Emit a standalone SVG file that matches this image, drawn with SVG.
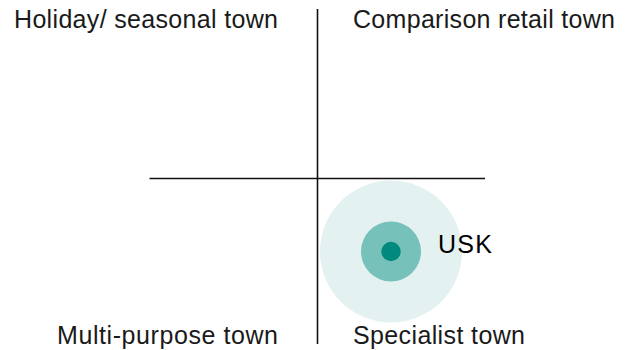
<svg xmlns="http://www.w3.org/2000/svg" width="633" height="350" viewBox="0 0 633 350">
  <style>
    .lbl { font-family: "Liberation Sans", Arial, sans-serif; font-size: 25px; fill: #1a1a1a; }
    .axis { stroke: #111; stroke-width: 1.6; fill: none; }
  </style>
  <rect width="633" height="350" fill="#ffffff"/>
  <g id="connectors">
    <line class="axis" x1="317.5" y1="9" x2="317.5" y2="344"/>
    <line class="axis" x1="149.5" y1="178.5" x2="485" y2="178.5"/>
  </g>
  <g id="usk">
    <circle cx="391" cy="251.5" r="71" fill="#e4f1f1"/>
    <circle cx="391" cy="251.5" r="30" fill="#76c1b9"/>
    <circle cx="391" cy="251.5" r="9.7" fill="#008a7e"/>
    <text class="lbl" x="438" y="253" textLength="54" style="fill:#000">USK</text>
  </g>
  <g id="holiday">
    <text class="lbl" x="278" y="28" text-anchor="end" textLength="264">Holiday/ seasonal town</text>
  </g>
  <g id="comparison">
    <text class="lbl" x="353" y="28" textLength="262">Comparison retail town</text>
  </g>
  <g id="multipurpose">
    <text class="lbl" x="278" y="344" text-anchor="end" textLength="221">Multi-purpose town</text>
  </g>
  <g id="specialist">
    <text class="lbl" x="353" y="344" textLength="172">Specialist town</text>
  </g>
</svg>
